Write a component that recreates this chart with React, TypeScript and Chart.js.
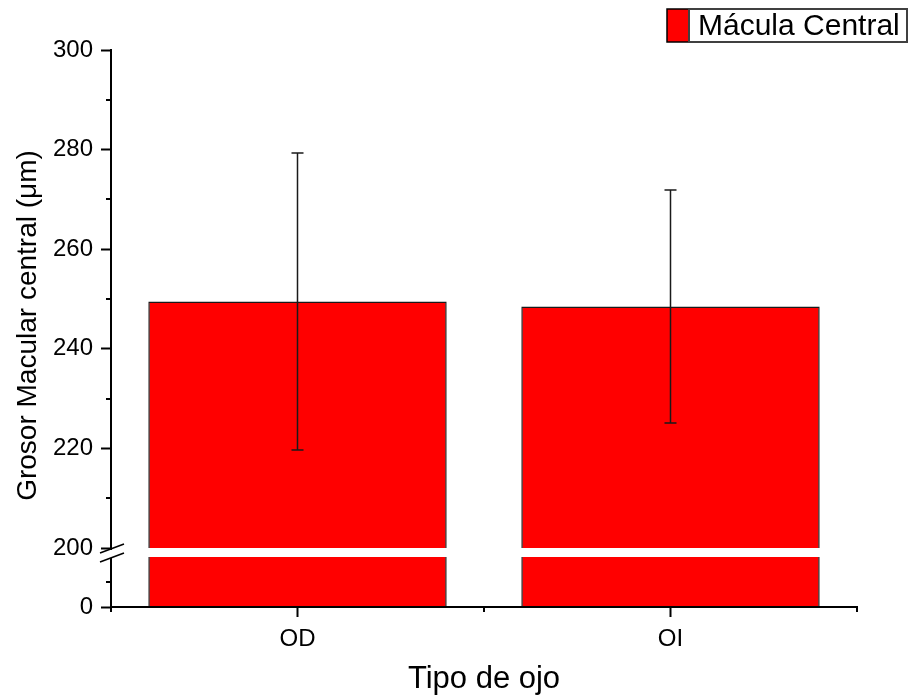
import React, { useEffect, useRef } from 'react';
import { Chart, registerables } from 'chart.js';

Chart.register(...registerables);

// ---- data ----
const categories = ['OD', 'OI'];
const meanValues = [249.5, 248.5];
const sdValues = [29.8, 23.4];
const breakValue = 200;
const upperTickValues = [200, 220, 240, 260, 280, 300];
const upperMinorTicks = [210, 230, 250, 270, 290];
const lowerTickValues = [0];
const lowerMinorTicks = [100];
const seriesLabel = 'Mácula Central';
const xTitle = 'Tipo de ojo';
const yTitle = 'Grosor Macular central (μm)';

const FONT = "'Liberation Sans', Arial, Helvetica, sans-serif";
const RED = '#FF0000';

export default function App() {
  const ref = useRef<HTMLCanvasElement | null>(null);

  useEffect(() => {
    const canvas = ref.current;
    if (!canvas) return;

    const lowerFill = categories.map(() => breakValue);

    const decor = {
      id: 'decor',
      afterDatasetsDraw(chart: any) {
        const ctx = chart.ctx;
        const x = chart.scales.x;
        const y = chart.scales.y;
        ctx.save();
        ctx.strokeStyle = '#1a1a1a';
        ctx.lineWidth = 1.5;
        meanValues.forEach((m, i) => {
          const px = x.getPixelForValue(i);
          const top = y.getPixelForValue(m + sdValues[i]);
          const bot = y.getPixelForValue(m - sdValues[i]);
          ctx.beginPath();
          ctx.moveTo(px, top);
          ctx.lineTo(px, bot);
          ctx.moveTo(px - 6, top);
          ctx.lineTo(px + 6, top);
          ctx.moveTo(px - 6, bot);
          ctx.lineTo(px + 6, bot);
          ctx.stroke();
        });
        ctx.restore();
      },
      afterDraw(chart: any) {
        const ctx = chart.ctx;
        const area = chart.chartArea;
        const x = chart.scales.x;
        const y = chart.scales.y;
        const yLow = chart.scales.yLow;
        ctx.save();
        ctx.strokeStyle = '#000';
        ctx.lineWidth = 2;
        // minor y ticks
        ctx.beginPath();
        upperMinorTicks.forEach((v) => {
          const py = Math.round(y.getPixelForValue(v));
          ctx.moveTo(area.left - 5, py);
          ctx.lineTo(area.left, py);
        });
        lowerMinorTicks.forEach((v) => {
          const py = Math.round(yLow.getPixelForValue(v));
          ctx.moveTo(area.left - 5, py);
          ctx.lineTo(area.left, py);
        });
        // minor x ticks at category boundaries
        for (let i = 0; i <= categories.length; i++) {
          const px = Math.round(x.getPixelForValue(i - 0.5));
          ctx.moveTo(px, area.bottom);
          ctx.lineTo(px, area.bottom + 5);
        }
        ctx.stroke();

        // axis break
        const yTop = y.getPixelForValue(breakValue);
        const yBot = yLow.getPixelForValue(breakValue);
        ctx.fillStyle = '#fff';
        ctx.fillRect(area.left - 3, yTop + 2, 6, yBot - yTop - 1);
        ctx.lineWidth = 1.5;
        ctx.beginPath();
        [yTop + 1, yBot + 1].forEach((yy) => {
          ctx.moveTo(area.left - 11, yy + 4);
          ctx.lineTo(area.left + 13, yy - 5);
        });
        ctx.stroke();

        // y title
        ctx.fillStyle = '#000';
        ctx.font = `28px ${FONT}`;
        ctx.textAlign = 'center';
        ctx.textBaseline = 'alphabetic';
        ctx.save();
        ctx.translate(36, (area.top + area.bottom) / 2 - 3);
        ctx.rotate(-Math.PI / 2);
        ctx.fillText(yTitle, 0, 0);
        ctx.restore();

        // legend
        const lx = 667, ly = 9, bw = 22, lh = 33, tw = 218;
        ctx.fillStyle = RED;
        ctx.fillRect(lx, ly, bw, lh);
        ctx.strokeStyle = '#000';
        ctx.lineWidth = 1.5;
        ctx.strokeRect(lx, ly, bw, lh);
        ctx.strokeStyle = '#404040';
        ctx.lineWidth = 2;
        ctx.strokeRect(lx + bw, ly, tw, lh);
        ctx.fillStyle = '#000';
        ctx.font = `30px ${FONT}`;
        ctx.textAlign = 'left';
        ctx.fillText(seriesLabel, lx + bw + 9, 35);
        ctx.restore();
      },
    };

    const tickFont = { family: FONT, size: 24 };

    const chart = new Chart(canvas, {
      type: 'bar',
      data: {
        labels: categories,
        datasets: [
          {
            label: seriesLabel,
            data: meanValues,
            yAxisID: 'y',
            backgroundColor: RED,
            borderColor: '#1a1a1a',
            borderWidth: { left: 1.5, right: 1.5, top: 1.5, bottom: 0 } as any,
            borderSkipped: false,
            grouped: false,
            barPercentage: 0.8,
            categoryPercentage: 1,
          },
          {
            label: seriesLabel,
            data: lowerFill,
            yAxisID: 'yLow',
            backgroundColor: RED,
            borderColor: '#1a1a1a',
            borderWidth: { left: 1.5, right: 1.5, top: 0, bottom: 0 } as any,
            borderSkipped: false,
            grouped: false,
            barPercentage: 0.8,
            categoryPercentage: 1,
          },
        ],
      },
      options: {
        responsive: false,
        animation: false,
        devicePixelRatio: 1,
        layout: { padding: { top: 50, right: 54, bottom: 0, left: 0 } },
        plugins: {
          legend: { display: false },
          tooltip: { enabled: false },
        },
        scales: {
          x: {
            type: 'category',
            offset: true,
            grid: {
              display: true,
              drawOnChartArea: false,
              drawTicks: true,
              tickLength: 10,
              tickWidth: 2,
              tickColor: '#000',
              offset: false,
            },
            border: { display: true, color: '#000', width: 2, z: 1 } as any,
            ticks: { color: '#000', font: tickFont, padding: 8, maxRotation: 0 },
            title: {
              display: true,
              text: xTitle,
              color: '#000',
              font: { family: FONT, size: 31 },
              padding: { top: 0, bottom: 0 },
            },
            afterFit: (s: any) => {
              s.height = 91;
            },
          },
          y: {
            type: 'linear',
            position: 'left',
            stack: 'ybreak',
            stackWeight: 498,
            weight: 2,
            min: 200,
            max: 300,
            afterBuildTicks: (s: any) => {
              s.ticks = upperTickValues.map((v) => ({ value: v }));
            },
            grid: {
              display: true,
              drawOnChartArea: false,
              drawTicks: true,
              tickLength: 10,
              tickWidth: 2,
              tickColor: '#000',
            },
            border: { display: true, color: '#000', width: 2, z: 1 } as any,
            ticks: { color: '#000', font: tickFont, padding: 8 },
            afterFit: (s: any) => {
              s.width = 111;
            },
          },
          yLow: {
            type: 'linear',
            position: 'left',
            stack: 'ybreak',
            stackWeight: 59,
            weight: 1,
            min: 0,
            max: 236,
            afterBuildTicks: (s: any) => {
              s.ticks = lowerTickValues.map((v) => ({ value: v }));
            },
            grid: {
              display: true,
              drawOnChartArea: false,
              drawTicks: true,
              tickLength: 10,
              tickWidth: 2,
              tickColor: '#000',
            },
            border: { display: true, color: '#000', width: 2, z: 1 } as any,
            ticks: { color: '#000', font: tickFont, padding: 8 },
            afterFit: (s: any) => {
              s.width = 111;
            },
          },
        } as any,
      },
      plugins: [decor],
    });

    return () => {
      chart.destroy();
    };
  }, []);

  return (
    <div style={{ position: 'absolute', left: 0, top: 0, width: 911, height: 698, background: '#fff' }}>
      <canvas ref={ref} width={911} height={698} />
    </div>
  );
}
